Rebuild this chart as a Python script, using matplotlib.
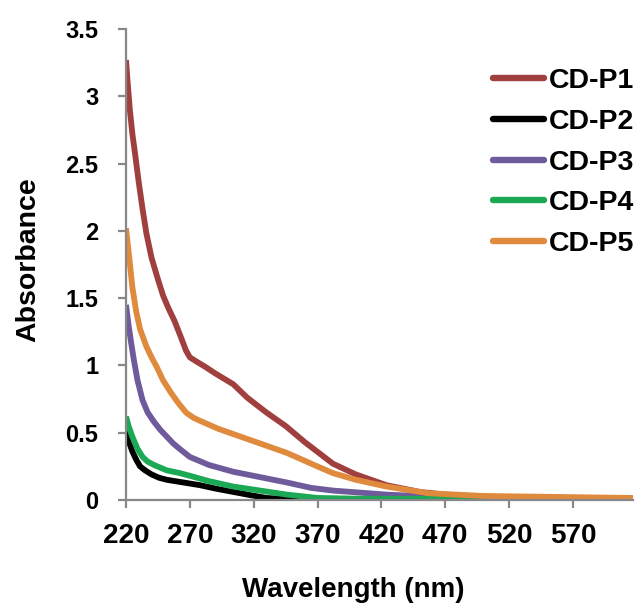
import matplotlib
matplotlib.use("Agg")
import matplotlib.pyplot as plt

plt.rcParams['font.family'] = ['Liberation Sans', 'DejaVu Sans']
plt.rcParams['font.weight'] = 'bold'

# Absorption spectra (wavelength in nm, absorbance)
wl_p1 = [220, 221, 223, 225, 227, 230, 233, 236, 240, 245, 249, 253, 258, 263,
         267, 270, 275, 282, 290, 304, 315, 330, 345, 360, 382, 400, 424, 450,
         480, 520, 617]
abs_p1 = [3.27, 3.14, 2.9, 2.72, 2.58, 2.36, 2.16, 1.98, 1.80, 1.64, 1.52, 1.43,
          1.33, 1.21, 1.11, 1.06, 1.03, 0.99, 0.94, 0.86, 0.76, 0.65, 0.55, 0.43,
          0.27, 0.19, 0.11, 0.06, 0.03, 0.02, 0.01]

wl_p2 = [220, 222, 225, 228, 231, 235, 240, 246, 252, 265, 278, 290, 304, 318,
         330, 350, 370, 617]
abs_p2 = [0.51, 0.44, 0.36, 0.30, 0.25, 0.22, 0.19, 0.165, 0.15, 0.13, 0.11,
          0.085, 0.06, 0.035, 0.015, 0.005, 0.0, 0.0]

wl_p3 = [220, 222, 224, 226, 229, 233, 237, 242, 247, 252, 257, 262, 270, 285,
         304, 325, 346, 365, 382, 424, 470, 617]
abs_p3 = [1.45, 1.30, 1.17, 1.05, 0.89, 0.74, 0.65, 0.58, 0.52, 0.47, 0.42,
          0.38, 0.32, 0.26, 0.21, 0.17, 0.13, 0.09, 0.07, 0.04, 0.02, 0.01]

wl_p4 = [220, 222, 225, 229, 233, 237, 242, 247, 252, 262, 270, 285, 304, 325,
         346, 370, 400, 617]
abs_p4 = [0.62, 0.55, 0.47, 0.38, 0.32, 0.285, 0.26, 0.24, 0.22, 0.20, 0.18,
          0.14, 0.10, 0.07, 0.04, 0.015, 0.01, 0.005]

wl_p5 = [220, 222, 225, 228, 231, 236, 240, 244, 249, 255, 261, 267, 273, 280,
         292, 304, 325, 346, 365, 382, 400, 424, 457, 500, 617]
abs_p5 = [2.02, 1.85, 1.58, 1.40, 1.27, 1.14, 1.06, 0.99, 0.89, 0.80, 0.72,
          0.65, 0.61, 0.58, 0.53, 0.49, 0.42, 0.35, 0.27, 0.20, 0.15, 0.10,
          0.05, 0.03, 0.015]

labels = ['CD-P1', 'CD-P2', 'CD-P3', 'CD-P4', 'CD-P5']
colors = ['#A0403E', '#000000', '#6F5A9C', '#1BA955', '#E08A3E']
series = [(wl_p1, abs_p1), (wl_p2, abs_p2), (wl_p3, abs_p3),
          (wl_p4, abs_p4), (wl_p5, abs_p5)]

x_ticks = [220, 270, 320, 370, 420, 470, 520, 570]
y_ticks = [0, 0.5, 1, 1.5, 2, 2.5, 3, 3.5]
y_ticklabels = ['0', '0.5', '1', '1.5', '2', '2.5', '3', '3.5']

W, H = 643, 611
fig = plt.figure(figsize=(W / 100, H / 100), dpi=100)
ax = fig.add_axes([126 / W, (H - 500) / H, 507 / W, 471 / H])

for (x, y), lab, c in zip(series, labels, colors):
    ax.plot(x, y, color=c, lw=4.2, label=lab, solid_capstyle='butt',
            solid_joinstyle='round')

ax.set_xlim(220, 617)
ax.set_ylim(0, 3.5)
ax.set_xticks(x_ticks)
ax.set_xticklabels([str(t) for t in x_ticks])
ax.set_yticks(y_ticks)
ax.set_yticklabels(y_ticklabels)

for side in ['top', 'right']:
    ax.spines[side].set_visible(False)
for side in ['left', 'bottom']:
    ax.spines[side].set_color('#888888')
    ax.spines[side].set_linewidth(1.6)
ax.tick_params(axis='both', direction='out', length=6, width=1.6,
               color='#888888')
ax.tick_params(axis='x', labelsize=20, pad=10.5)
ax.tick_params(axis='y', labelsize=17, pad=14)
for t in ax.get_xticklabels() + ax.get_yticklabels():
    t.set_fontweight('bold')

ax.set_xlabel('Wavelength (nm)', fontsize=20, fontweight='bold')
ax.xaxis.set_label_coords((353 - 126) / 507, (500 - 577) / 471)
ax.set_ylabel('Absorbance', fontsize=20.5, fontweight='bold')
ax.yaxis.set_label_coords((41 - 126) / 507, (500 - 260) / 471)

leg = fig.legend(loc='upper left', bbox_to_anchor=(493 / W, 1 - 68 / H),
                 frameon=False, fontsize=20.5, handlelength=1.8,
                 handletextpad=0.15, labelspacing=0.52, borderpad=0,
                 borderaxespad=0)
for t in leg.get_texts():
    t.set_fontweight('bold')
for ln in leg.get_lines():
    ln.set_solid_capstyle('round')
    ln.set_linewidth(4.6)

fig.savefig('out.png', dpi=100)
